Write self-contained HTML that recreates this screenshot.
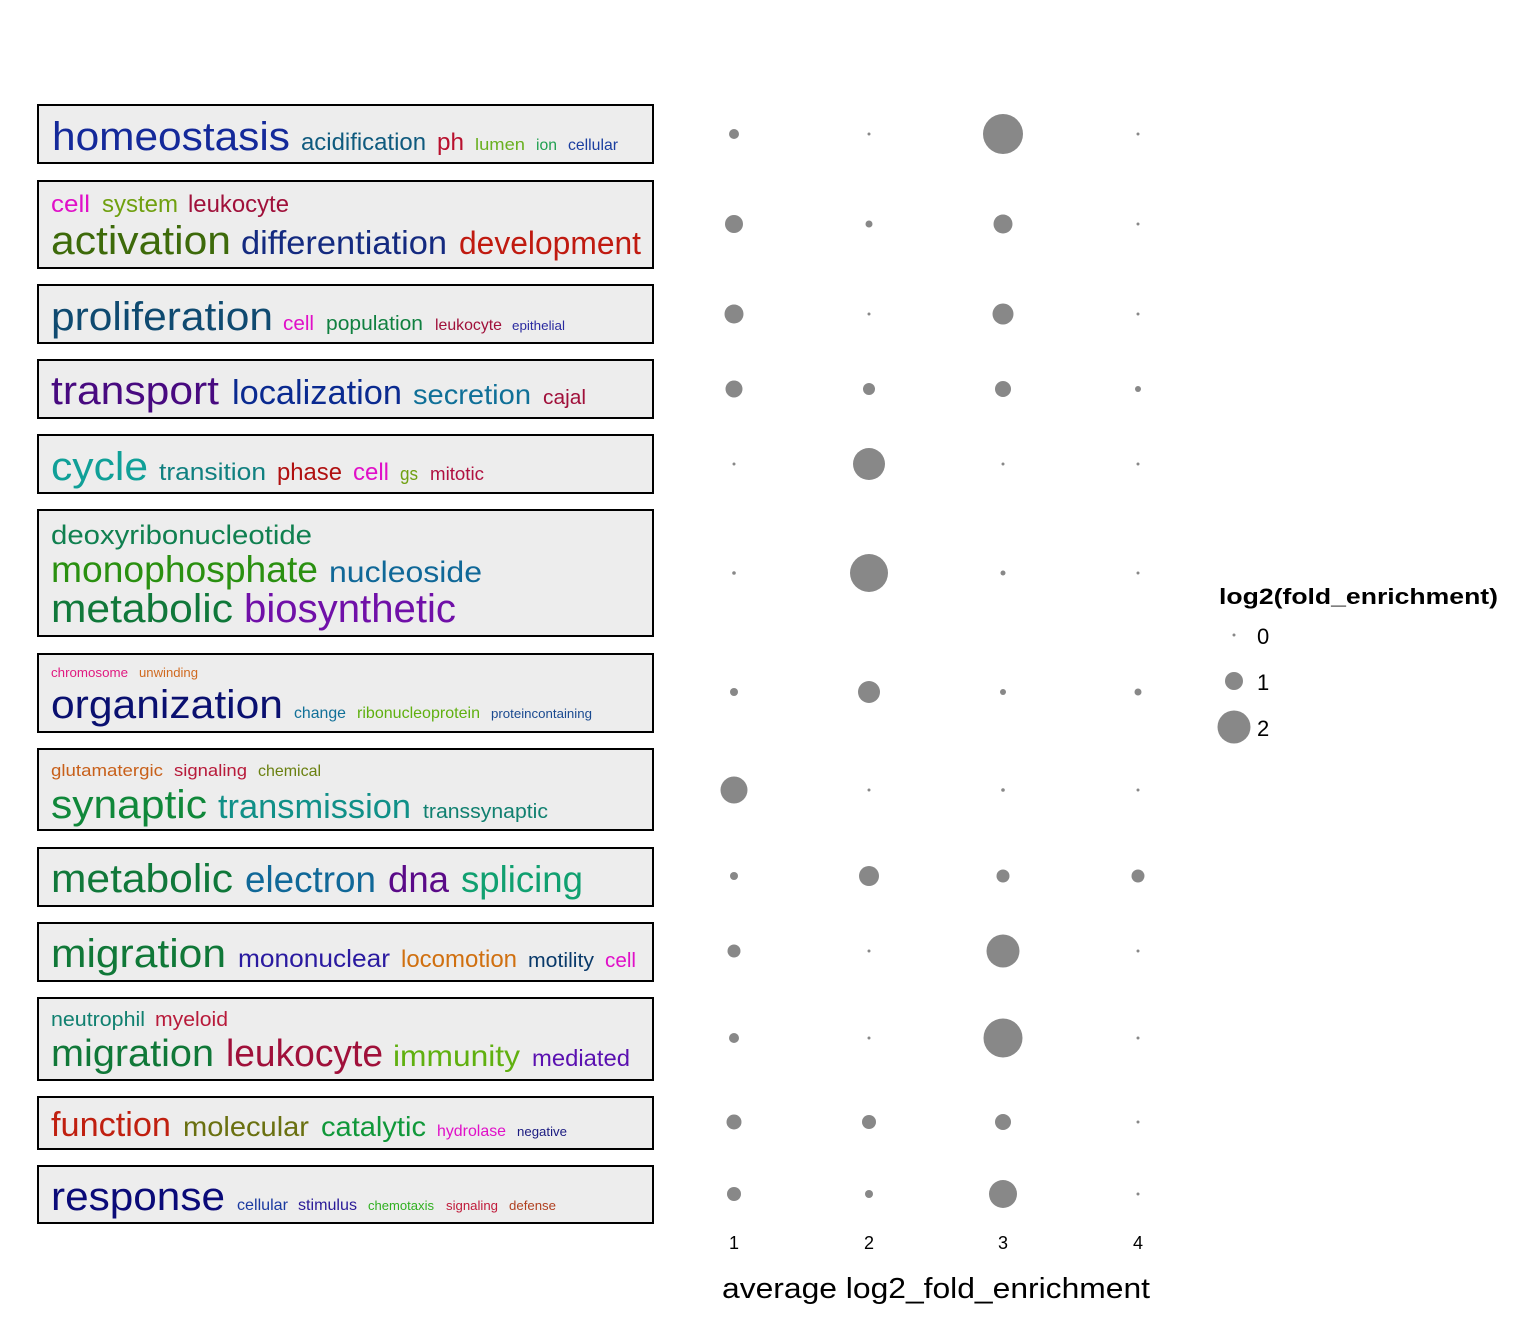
<!DOCTYPE html>
<html><head><meta charset="utf-8"><style>html,body{margin:0;padding:0;background:#fff}svg{display:block}text{font-family:"Liberation Sans",Arial,sans-serif}</style></head>
<body>
<svg width="1536" height="1344" viewBox="0 0 1536 1344" xmlns="http://www.w3.org/2000/svg">
<g fill="#ededed" stroke="#000" stroke-width="2">
<rect x="38" y="105" width="615" height="58"/>
<rect x="38" y="181" width="615" height="87"/>
<rect x="38" y="285" width="615" height="58"/>
<rect x="38" y="360" width="615" height="58"/>
<rect x="38" y="435" width="615" height="58"/>
<rect x="38" y="510" width="615" height="126"/>
<rect x="38" y="654" width="615" height="78"/>
<rect x="38" y="749" width="615" height="81"/>
<rect x="38" y="848" width="615" height="58"/>
<rect x="38" y="923" width="615" height="58"/>
<rect x="38" y="998" width="615" height="82"/>
<rect x="38" y="1097" width="615" height="52"/>
<rect x="38" y="1166" width="615" height="57"/>
</g>
<g>
<text x="52" y="150" font-size="40" fill="#14299a" textLength="238" lengthAdjust="spacingAndGlyphs">homeostasis</text>
<text x="301" y="150" font-size="24" fill="#0f5a7e" textLength="125" lengthAdjust="spacingAndGlyphs">acidification</text>
<text x="437" y="150" font-size="24" fill="#b8102e" textLength="27" lengthAdjust="spacingAndGlyphs">ph</text>
<text x="475" y="150" font-size="17" fill="#6ab020" textLength="50" lengthAdjust="spacingAndGlyphs">lumen</text>
<text x="536" y="150" font-size="16" fill="#20a050" textLength="21" lengthAdjust="spacingAndGlyphs">ion</text>
<text x="568" y="150" font-size="16" fill="#1a3ea0" textLength="50" lengthAdjust="spacingAndGlyphs">cellular</text>

<text x="51" y="212" font-size="24" fill="#e010c8" textLength="39" lengthAdjust="spacingAndGlyphs">cell</text>
<text x="102" y="212" font-size="24" fill="#70a010" textLength="76" lengthAdjust="spacingAndGlyphs">system</text>
<text x="188" y="212" font-size="24" fill="#a0103a" textLength="101" lengthAdjust="spacingAndGlyphs">leukocyte</text>
<text x="51" y="254" font-size="40" fill="#3d6a0a" textLength="180" lengthAdjust="spacingAndGlyphs">activation</text>
<text x="241" y="254" font-size="33" fill="#142a80" textLength="206" lengthAdjust="spacingAndGlyphs">differentiation</text>
<text x="459" y="254" font-size="32" fill="#c01a10" textLength="182" lengthAdjust="spacingAndGlyphs">development</text>

<text x="51" y="330" font-size="40" fill="#0f4a70" textLength="222" lengthAdjust="spacingAndGlyphs">proliferation</text>
<text x="283" y="330" font-size="20" fill="#e010c8" textLength="31" lengthAdjust="spacingAndGlyphs">cell</text>
<text x="326" y="330" font-size="20" fill="#108040" textLength="97" lengthAdjust="spacingAndGlyphs">population</text>
<text x="435" y="330" font-size="16" fill="#a0103a" textLength="67" lengthAdjust="spacingAndGlyphs">leukocyte</text>
<text x="512" y="330" font-size="13" fill="#2a2aa0" textLength="53" lengthAdjust="spacingAndGlyphs">epithelial</text>

<text x="51" y="404" font-size="40" fill="#480a80" textLength="168" lengthAdjust="spacingAndGlyphs">transport</text>
<text x="232" y="404" font-size="34" fill="#0a2a90" textLength="170" lengthAdjust="spacingAndGlyphs">localization</text>
<text x="413" y="404" font-size="28" fill="#107098" textLength="118" lengthAdjust="spacingAndGlyphs">secretion</text>
<text x="543" y="404" font-size="20" fill="#a0103a" textLength="43" lengthAdjust="spacingAndGlyphs">cajal</text>

<text x="51" y="480" font-size="40" fill="#10a098" textLength="97" lengthAdjust="spacingAndGlyphs">cycle</text>
<text x="159" y="480" font-size="24" fill="#108080" textLength="107" lengthAdjust="spacingAndGlyphs">transition</text>
<text x="277" y="480" font-size="24" fill="#b01010" textLength="65" lengthAdjust="spacingAndGlyphs">phase</text>
<text x="353" y="480" font-size="24" fill="#e010c8" textLength="36" lengthAdjust="spacingAndGlyphs">cell</text>
<text x="400" y="480" font-size="18" fill="#70a010" textLength="18" lengthAdjust="spacingAndGlyphs">gs</text>
<text x="430" y="480" font-size="18" fill="#b01040" textLength="54" lengthAdjust="spacingAndGlyphs">mitotic</text>

<text x="51" y="544" font-size="27" fill="#108050" textLength="261" lengthAdjust="spacingAndGlyphs">deoxyribonucleotide</text>
<text x="51" y="582" font-size="37" fill="#2a9010" textLength="267" lengthAdjust="spacingAndGlyphs">monophosphate</text>
<text x="329" y="582" font-size="30" fill="#106898" textLength="153" lengthAdjust="spacingAndGlyphs">nucleoside</text>
<text x="51" y="622" font-size="40" fill="#10783a" textLength="182" lengthAdjust="spacingAndGlyphs">metabolic</text>
<text x="244" y="622" font-size="40" fill="#7010a8" textLength="212" lengthAdjust="spacingAndGlyphs">biosynthetic</text>

<text x="51" y="677" font-size="13" fill="#e01a80" textLength="77" lengthAdjust="spacingAndGlyphs">chromosome</text>
<text x="139" y="677" font-size="13" fill="#d06a20" textLength="59" lengthAdjust="spacingAndGlyphs">unwinding</text>
<text x="51" y="718" font-size="40" fill="#0a1070" textLength="232" lengthAdjust="spacingAndGlyphs">organization</text>
<text x="294" y="718" font-size="16" fill="#107098" textLength="52" lengthAdjust="spacingAndGlyphs">change</text>
<text x="357" y="718" font-size="16" fill="#60b010" textLength="123" lengthAdjust="spacingAndGlyphs">ribonucleoprotein</text>
<text x="491" y="718" font-size="13" fill="#1a4a90" textLength="101" lengthAdjust="spacingAndGlyphs">proteincontaining</text>

<text x="51" y="776" font-size="17" fill="#c8601a" textLength="112" lengthAdjust="spacingAndGlyphs">glutamatergic</text>
<text x="174" y="776" font-size="17" fill="#b81a3a" textLength="73" lengthAdjust="spacingAndGlyphs">signaling</text>
<text x="258" y="776" font-size="16" fill="#6a8010" textLength="63" lengthAdjust="spacingAndGlyphs">chemical</text>
<text x="51" y="818" font-size="40" fill="#10883a" textLength="156" lengthAdjust="spacingAndGlyphs">synaptic</text>
<text x="218" y="818" font-size="34" fill="#109088" textLength="193" lengthAdjust="spacingAndGlyphs">transmission</text>
<text x="423" y="818" font-size="20" fill="#108070" textLength="125" lengthAdjust="spacingAndGlyphs">transsynaptic</text>

<text x="51" y="892" font-size="40" fill="#10783a" textLength="182" lengthAdjust="spacingAndGlyphs">metabolic</text>
<text x="245" y="892" font-size="37" fill="#106898" textLength="131" lengthAdjust="spacingAndGlyphs">electron</text>
<text x="388" y="892" font-size="37" fill="#5a0a88" textLength="61" lengthAdjust="spacingAndGlyphs">dna</text>
<text x="461" y="892" font-size="37" fill="#10a070" textLength="122" lengthAdjust="spacingAndGlyphs">splicing</text>

<text x="51" y="967" font-size="40" fill="#107838" textLength="175" lengthAdjust="spacingAndGlyphs">migration</text>
<text x="238" y="967" font-size="25" fill="#2a1aa0" textLength="152" lengthAdjust="spacingAndGlyphs">mononuclear</text>
<text x="401" y="967" font-size="24" fill="#d07010" textLength="116" lengthAdjust="spacingAndGlyphs">locomotion</text>
<text x="528" y="967" font-size="20" fill="#0a3a6a" textLength="66" lengthAdjust="spacingAndGlyphs">motility</text>
<text x="605" y="967" font-size="20" fill="#e010c8" textLength="31" lengthAdjust="spacingAndGlyphs">cell</text>

<text x="51" y="1026" font-size="20" fill="#108070" textLength="94" lengthAdjust="spacingAndGlyphs">neutrophil</text>
<text x="155" y="1026" font-size="20" fill="#b81a3a" textLength="73" lengthAdjust="spacingAndGlyphs">myeloid</text>
<text x="51" y="1066" font-size="38" fill="#107838" textLength="163" lengthAdjust="spacingAndGlyphs">migration</text>
<text x="226" y="1066" font-size="38" fill="#a0103a" textLength="157" lengthAdjust="spacingAndGlyphs">leukocyte</text>
<text x="393" y="1066" font-size="30" fill="#60b010" textLength="127" lengthAdjust="spacingAndGlyphs">immunity</text>
<text x="532" y="1066" font-size="23" fill="#5a10b0" textLength="98" lengthAdjust="spacingAndGlyphs">mediated</text>

<text x="51" y="1136" font-size="34" fill="#c02010" textLength="120" lengthAdjust="spacingAndGlyphs">function</text>
<text x="183" y="1136" font-size="28" fill="#6a7010" textLength="126" lengthAdjust="spacingAndGlyphs">molecular</text>
<text x="321" y="1136" font-size="28" fill="#10983a" textLength="105" lengthAdjust="spacingAndGlyphs">catalytic</text>
<text x="437" y="1136" font-size="16" fill="#e010c8" textLength="69" lengthAdjust="spacingAndGlyphs">hydrolase</text>
<text x="517" y="1136" font-size="13" fill="#1a1a80" textLength="50" lengthAdjust="spacingAndGlyphs">negative</text>

<text x="51" y="1210" font-size="40" fill="#0a0a78" textLength="174" lengthAdjust="spacingAndGlyphs">response</text>
<text x="237" y="1210" font-size="16" fill="#1a3aa0" textLength="51" lengthAdjust="spacingAndGlyphs">cellular</text>
<text x="298" y="1210" font-size="16" fill="#2a1a98" textLength="59" lengthAdjust="spacingAndGlyphs">stimulus</text>
<text x="368" y="1210" font-size="13" fill="#30b020" textLength="66" lengthAdjust="spacingAndGlyphs">chemotaxis</text>
<text x="446" y="1210" font-size="13" fill="#c01a3a" textLength="52" lengthAdjust="spacingAndGlyphs">signaling</text>
<text x="509" y="1210" font-size="13" fill="#b04020" textLength="47" lengthAdjust="spacingAndGlyphs">defense</text>
</g>

<g fill="#888">
<circle cx="734" cy="134" r="5"/><circle cx="869" cy="134" r="1.5"/><circle cx="1003" cy="134" r="20"/><circle cx="1138" cy="134" r="1.5"/>
<circle cx="734" cy="224" r="9"/><circle cx="869" cy="224" r="3.5"/><circle cx="1003" cy="224" r="9.5"/><circle cx="1138" cy="224" r="1.5"/>
<circle cx="734" cy="314" r="9.5"/><circle cx="869" cy="314" r="1.5"/><circle cx="1003" cy="314" r="10.5"/><circle cx="1138" cy="314" r="1.5"/>
<circle cx="734" cy="389" r="8.5"/><circle cx="869" cy="389" r="6"/><circle cx="1003" cy="389" r="8"/><circle cx="1138" cy="389" r="3"/>
<circle cx="734" cy="464" r="1.5"/><circle cx="869" cy="464" r="16"/><circle cx="1003" cy="464" r="1.5"/><circle cx="1138" cy="464" r="1.5"/>
<circle cx="734" cy="573" r="1.8"/><circle cx="869" cy="573" r="19"/><circle cx="1003" cy="573" r="2.5"/><circle cx="1138" cy="573" r="1.5"/>
<circle cx="734" cy="692" r="4"/><circle cx="869" cy="692" r="11"/><circle cx="1003" cy="692" r="3"/><circle cx="1138" cy="692" r="3.5"/>
<circle cx="734" cy="790" r="13.5"/><circle cx="869" cy="790" r="1.5"/><circle cx="1003" cy="790" r="1.8"/><circle cx="1138" cy="790" r="1.5"/>
<circle cx="734" cy="876" r="4"/><circle cx="869" cy="876" r="10"/><circle cx="1003" cy="876" r="6.5"/><circle cx="1138" cy="876" r="6.5"/>
<circle cx="734" cy="951" r="6.5"/><circle cx="869" cy="951" r="1.5"/><circle cx="1003" cy="951" r="16.5"/><circle cx="1138" cy="951" r="1.5"/>
<circle cx="734" cy="1038" r="5"/><circle cx="869" cy="1038" r="1.5"/><circle cx="1003" cy="1038" r="19.5"/><circle cx="1138" cy="1038" r="1.5"/>
<circle cx="734" cy="1122" r="7.5"/><circle cx="869" cy="1122" r="7"/><circle cx="1003" cy="1122" r="8"/><circle cx="1138" cy="1122" r="1.5"/>
<circle cx="734" cy="1194" r="7"/><circle cx="869" cy="1194" r="4"/><circle cx="1003" cy="1194" r="14"/><circle cx="1138" cy="1194" r="1.5"/>
<circle cx="1234" cy="635" r="1.5"/><circle cx="1234" cy="681" r="9"/><circle cx="1234" cy="727" r="16.5"/>
</g>
<g font-size="18" fill="#000" text-anchor="middle">
<text x="734" y="1249">1</text><text x="869" y="1249">2</text><text x="1003" y="1249">3</text><text x="1138" y="1249">4</text>
</g>
<text x="722" y="1298" font-size="29" fill="#000" textLength="428" lengthAdjust="spacingAndGlyphs">average log2_fold_enrichment</text>
<text x="1219" y="604" font-size="22" font-weight="bold" fill="#000" textLength="279" lengthAdjust="spacingAndGlyphs">log2(fold_enrichment)</text>
<text x="1257" y="644" font-size="22" fill="#000">0</text>
<text x="1257" y="690" font-size="22" fill="#000">1</text>
<text x="1257" y="736" font-size="22" fill="#000">2</text>
</svg>
</body></html>
